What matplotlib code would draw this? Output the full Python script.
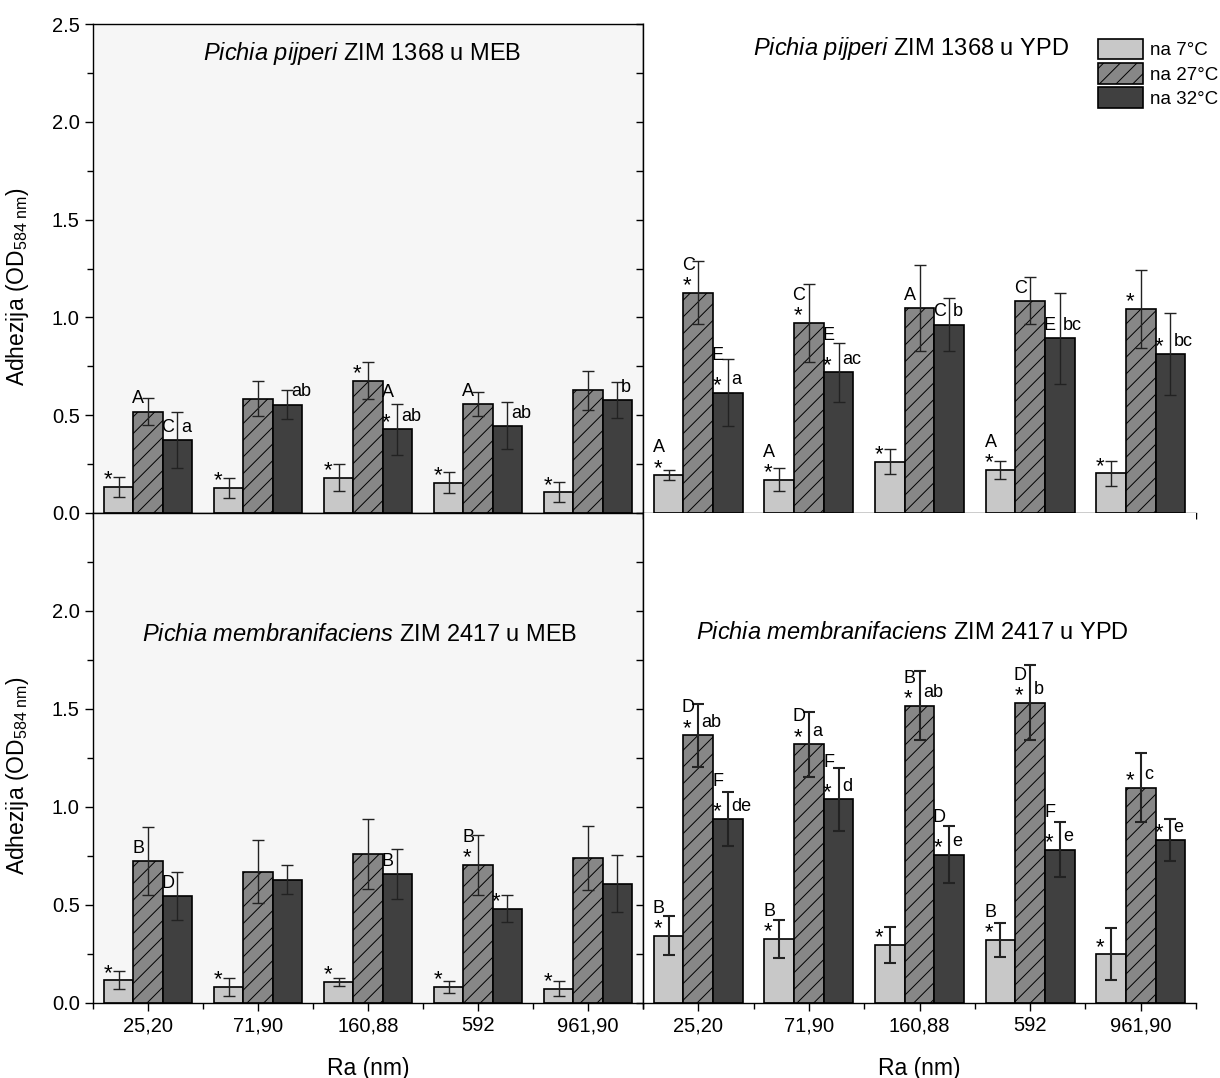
import matplotlib
matplotlib.use("Agg")
import matplotlib.pyplot as plt
import numpy as np

plt.rcParams['font.family'] = ['Liberation Sans', 'DejaVu Sans']
plt.rcParams['mathtext.fontset'] = 'custom'
plt.rcParams['mathtext.rm'] = 'Liberation Sans'
plt.rcParams['mathtext.it'] = 'Liberation Sans:italic'
plt.rcParams['hatch.linewidth'] = 0.7

ra_labels = ['25,20', '71,90', '160,88', '592', '961,90']
temp_labels = ['na 7°C', 'na 27°C', 'na 32°C']

# Pichia pijperi ZIM 1368 u MEB
pp_meb_7 = [0.134, 0.129, 0.180, 0.155, 0.107]
pp_meb_27 = [0.518, 0.584, 0.676, 0.557, 0.627]
pp_meb_32 = [0.373, 0.554, 0.428, 0.445, 0.578]
pp_meb_7_err = [0.050, 0.050, 0.070, 0.055, 0.053]
pp_meb_27_err = [0.068, 0.090, 0.095, 0.063, 0.100]
pp_meb_32_err = [0.145, 0.075, 0.130, 0.120, 0.093]
pp_meb_7_marks = ['*', '*', '*', '*', '*']
pp_meb_27_marks = ['A', '', '*', 'A', '']
pp_meb_32_marks = ['C|a', '|ab', 'A*|ab', '|ab', '|b']

# Pichia pijperi ZIM 1368 u YPD
pp_ypd_7 = [0.194, 0.170, 0.262, 0.220, 0.203]
pp_ypd_27 = [1.126, 0.973, 1.046, 1.084, 1.043]
pp_ypd_32 = [0.615, 0.719, 0.963, 0.893, 0.813]
pp_ypd_7_err = [0.027, 0.060, 0.063, 0.044, 0.065]
pp_ypd_27_err = [0.160, 0.200, 0.220, 0.120, 0.200]
pp_ypd_32_err = [0.170, 0.150, 0.135, 0.233, 0.210]
pp_ypd_7_marks = ['A*', 'A*', '*', 'A*', '*']
pp_ypd_27_marks = ['C*', 'C*', 'A', 'C', '*']
pp_ypd_32_marks = ['E*|a', 'E*|ac', 'C|b', 'E|bc', '*|bc']

# Pichia membranifaciens ZIM 2417 u MEB
pm_meb_7 = [0.116, 0.082, 0.107, 0.083, 0.073]
pm_meb_27 = [0.724, 0.670, 0.759, 0.704, 0.740]
pm_meb_32 = [0.546, 0.629, 0.658, 0.481, 0.609]
pm_meb_7_err = [0.046, 0.048, 0.022, 0.030, 0.039]
pm_meb_27_err = [0.172, 0.160, 0.178, 0.155, 0.165]
pm_meb_32_err = [0.120, 0.073, 0.126, 0.070, 0.146]
pm_meb_7_marks = ['*', '*', '*', '*', '*']
pm_meb_27_marks = ['B', '', '', 'B*', '']
pm_meb_32_marks = ['D', '', 'B', '*', '']

# Pichia membranifaciens ZIM 2417 u YPD
pm_ypd_7 = [0.343, 0.327, 0.298, 0.323, 0.248]
pm_ypd_27 = [1.366, 1.320, 1.517, 1.532, 1.099]
pm_ypd_32 = [0.939, 1.039, 0.757, 0.782, 0.832]
pm_ypd_7_err = [0.100, 0.095, 0.092, 0.087, 0.133]
pm_ypd_27_err = [0.160, 0.166, 0.177, 0.190, 0.175]
pm_ypd_32_err = [0.136, 0.160, 0.146, 0.140, 0.105]
pm_ypd_7_marks = ['B*', 'B*', '*', 'B*', '*']
pm_ypd_27_marks = ['D*|ab', 'D*|a', 'B*|ab', 'D*|b', '*|c']
pm_ypd_32_marks = ['F*|de', 'F*|d', 'D*|e', 'F*|e', '*|e']

panels = {
    'tl': (r'$\mathit{Pichia\ pijperi}$ ZIM 1368 u MEB',
           [pp_meb_7, pp_meb_27, pp_meb_32],
           [pp_meb_7_err, pp_meb_27_err, pp_meb_32_err],
           [pp_meb_7_marks, pp_meb_27_marks, pp_meb_32_marks]),
    'tr': (r'$\mathit{Pichia\ pijperi}$ ZIM 1368 u YPD',
           [pp_ypd_7, pp_ypd_27, pp_ypd_32],
           [pp_ypd_7_err, pp_ypd_27_err, pp_ypd_32_err],
           [pp_ypd_7_marks, pp_ypd_27_marks, pp_ypd_32_marks]),
    'bl': (r'$\mathit{Pichia\ membranifaciens}$ ZIM 2417 u MEB',
           [pm_meb_7, pm_meb_27, pm_meb_32],
           [pm_meb_7_err, pm_meb_27_err, pm_meb_32_err],
           [pm_meb_7_marks, pm_meb_27_marks, pm_meb_32_marks]),
    'br': (r'$\mathit{Pichia\ membranifaciens}$ ZIM 2417 u YPD',
           [pm_ypd_7, pm_ypd_27, pm_ypd_32],
           [pm_ypd_7_err, pm_ypd_27_err, pm_ypd_32_err],
           [pm_ypd_7_marks, pm_ypd_27_marks, pm_ypd_32_marks]),
}

colors = ['#c8c8c8', '#878787', '#404040']
hatches = ['', '//', '']
bw = 0.268

fig = plt.figure(figsize=(12.2, 10.78), dpi=100)
L, M, R = 93 / 1220, 643 / 1220, 1196 / 1220
T, Mid, B = 1 - 24 / 1078, 1 - 513 / 1078, 1 - 1003 / 1078
pos = {
    'tl': [L, Mid, M - L, T - Mid],
    'bl': [L, B, M - L, Mid - B],
    'tr': [M, Mid, R - M, T - Mid],
    'br': [M, B, R - M, Mid - B],
}
title_pos = {'tl': (0.49, 0.94), 'tr': (0.484, 0.95),
             'bl': (0.485, 0.751), 'br': (0.488, 0.755)}
err_lw = {'tl': 1.0, 'tr': 1.0, 'bl': 1.0, 'br': 1.5}

x = np.arange(len(ra_labels))
axes = {}
for key in ['tl', 'bl', 'tr', 'br']:
    ax = fig.add_axes(pos[key])
    axes[key] = ax
    title, vals, errs, marks = panels[key]
    left = key[1] == 'l'
    top = key[0] == 't'
    ax.set_facecolor('#f6f6f6' if left else 'white')
    bars = []
    for i in range(3):
        xi = x + (i - 1) * bw
        b = ax.bar(xi, vals[i], bw, color=colors[i], edgecolor='black',
                   linewidth=1.2, hatch=hatches[i], zorder=2,
                   label=temp_labels[i])
        bars.append(b)
        ax.errorbar(xi, vals[i], yerr=errs[i], fmt='none', ecolor='#222222',
                    elinewidth=err_lw[key], capsize=4, capthick=err_lw[key],
                    zorder=3)
        up_off = 0.19 if i == 2 else 0.14
        for xc, v, m in zip(xi, vals[i], marks[i]):
            if not m:
                continue
            head, _, low = m.partition('|')
            star = '*' in head
            upper = head.replace('*', '')
            if star:
                ax.text(xc - 0.1, v + 0.035, '*', ha='center', va='center',
                        fontsize=16, zorder=4)
            if upper:
                ax.text(xc - 0.09, v + (up_off if star else 0.065), upper,
                        ha='center', va='center', fontsize=13, zorder=4)
            if low:
                ax.text(xc + 0.03, v + 0.065, low, ha='left', va='center',
                        fontsize=13, zorder=4)

    ax.set_xlim(-0.5, 4.5)
    ax.set_ylim(0, 2.5)
    ax.set_xticks(x)
    ax.set_xticks(np.arange(-0.5, 5, 1), minor=True)
    ax.set_yticks(np.arange(0, 2.51 if top else 2.01, 0.5))
    ax.set_yticks(np.arange(0.25, 2.5, 0.5), minor=True)
    ax.tick_params(axis='both', which='major', direction='out', length=6,
                   width=1, labelsize=14.5, colors='black')
    ax.tick_params(axis='both', which='minor', direction='out', length=4,
                   width=1)
    if top:
        ax.tick_params(axis='x', labelbottom=False)
    else:
        ax.set_xticklabels(ra_labels)
        ax.set_xlabel('Ra (nm)', fontsize=16.5, labelpad=16)
    if left:
        ax.set_ylabel(r'Adhezija (OD$_{\mathrm{584\ nm}}$)', fontsize=16.5)
        ax.yaxis.set_label_coords(-0.112, 0.463)
    else:
        ax.tick_params(axis='y', which='both', labelleft=False, length=5)
        ax.spines['top'].set_visible(False)
        ax.spines['right'].set_visible(False)
    for s in ax.spines.values():
        s.set_linewidth(1.0)
    ax.text(title_pos[key][0], title_pos[key][1], title, transform=ax.transAxes,
            ha='center', va='center', fontsize=17)
    if key == 'tr':
        ax.legend(bars, temp_labels, loc='upper left',
                  bbox_to_anchor=(0.81, 0.985), frameon=False, fontsize=13.5,
                  handlelength=2.4, handleheight=1.3, labelspacing=0.2,
                  handletextpad=0.35, borderaxespad=0)

fig.savefig('out.png', dpi=100)
